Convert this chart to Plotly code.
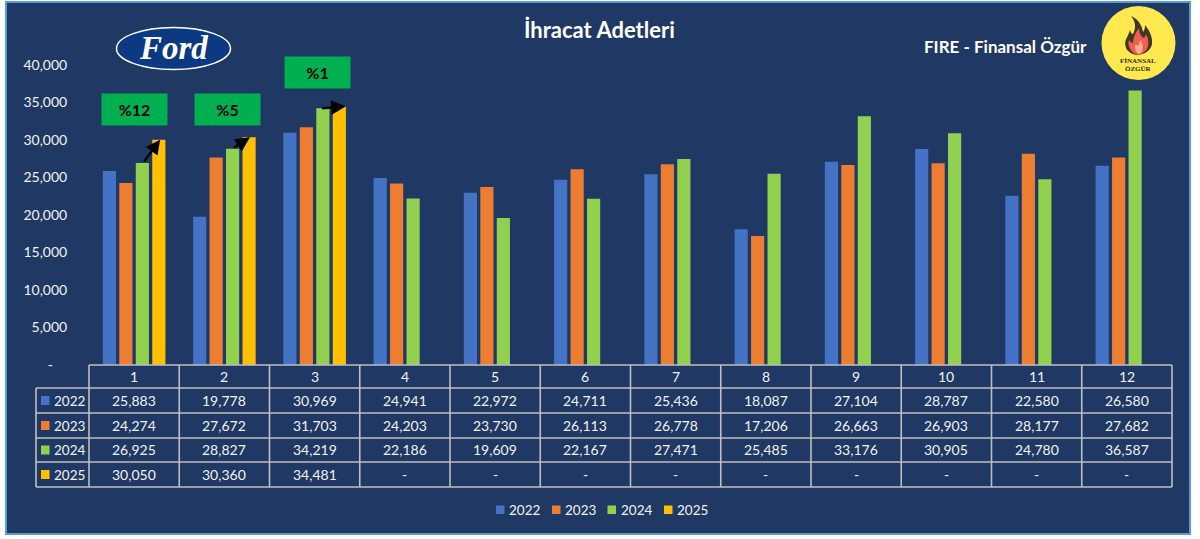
import plotly.graph_objects as go

months = [1, 2, 3, 4, 5, 6, 7, 8, 9, 10, 11, 12]
years = ["2022", "2023", "2024", "2025"]
v2022 = [25883, 19778, 30969, 24941, 22972, 24711, 25436, 18087, 27104, 28787, 22580, 26580]
v2023 = [24274, 27672, 31703, 24203, 23730, 26113, 26778, 17206, 26663, 26903, 28177, 27682]
v2024 = [26925, 28827, 34219, 22186, 19609, 22167, 27471, 25485, 33176, 30905, 24780, 36587]
v2025 = [30050, 30360, 34481, None, None, None, None, None, None, None, None, None]
series = [v2022, v2023, v2024, v2025]
colors = ["#4472C4", "#ED7D31", "#92D050", "#FFC000"]
y_ticks = [0, 5000, 10000, 15000, 20000, 25000, 30000, 35000, 40000]
change_labels = ["%12", "%5", "%1"]

W, H = 1200, 539
L, R, T, B = 89, 1172, 65, 365
BG = "#1F3864"
TXT = "#F2F2F2"
GRID = "#BFBFBF"
FONT = "Lato"


def px(x):
    return (x - L) / (R - L)


def py(y):
    return (B - y) / (B - T)


def rect(x0, y0, x1, y1, **kw):
    return dict(type="rect", xref="paper", yref="paper", x0=px(x0), x1=px(x1), y0=py(y0), y1=py(y1), **kw)


def line(x0, y0, x1, y1, color=GRID, width=1.6):
    return dict(type="line", xref="paper", yref="paper", x0=px(x0), x1=px(x1), y0=py(y0), y1=py(y1),
                line=dict(color=color, width=width), layer="above")


def path(cmds, fill):
    out = []
    for c in cmds:
        if isinstance(c, str):
            out.append(c)
        else:
            out.append(f"{px(c[0]):.5f},{py(c[1]):.5f}")
    return dict(type="path", xref="paper", yref="paper", path=" ".join(out),
                fillcolor=fill, line=dict(width=0), layer="above")


def text(x, y, s, size=14, color=TXT, bold=False, family=FONT, **kw):
    if bold:
        s = f"<b>{s}</b>"
    return dict(x=px(x), y=py(y), xref="paper", yref="paper", text=s, showarrow=False,
                font=dict(size=size, color=color, family=family), xanchor=kw.pop("xanchor", "center"),
                yanchor="middle", **kw)


fig = go.Figure()
for name, vals, col in zip(years, series, colors):
    fig.add_bar(x=months, y=vals, name=name, marker=dict(color=col, line=dict(width=0)), showlegend=False)

shapes = [rect(6, 2, 1190, 534, fillcolor=BG, line=dict(color="#5B9BD5", width=2), layer="below")]
annotations = []

# data table
col_w = (R - L) / 12
row_y = [365, 388, 413, 438, 462, 487]
for i in range(13):
    shapes.append(line(L + i * col_w, 365, L + i * col_w, 487))
shapes.append(line(36, 388, 36, 487))
shapes.append(line(L, 365, R, 365))
for y in row_y[1:]:
    shapes.append(line(36, y, R, y))
for i, m in enumerate(months):
    annotations.append(text(L + (i + .5) * col_w, 376, str(m)))
for r, (name, vals, col) in enumerate(zip(years, series, colors)):
    yc = (row_y[r + 1] + row_y[r + 2]) / 2
    shapes.append(rect(41, yc - 4.5, 49.5, yc + 4.5, fillcolor=col, line=dict(width=0), layer="above"))
    annotations.append(text(51.5, yc, name, size=13.5, xanchor="left"))
    for i, v in enumerate(vals):
        annotations.append(text(L + (i + .5) * col_w, yc, "-" if v is None else f"{v:,}"))

# legend
leg_sq = [496, 552, 607.5, 664]
leg_tx = [507, 563, 619, 675]
for x, tx, name, col in zip(leg_sq, leg_tx, years, colors):
    shapes.append(rect(x, 505.5, x + 8.5, 514, fillcolor=col, line=dict(width=0), layer="above"))
    annotations.append(text(tx, 509.5, name, size=13.5, xanchor="left", color="#F2F2F2"))

# green change boxes and arrows
box_pos = [(134.5, 109.5), (227, 109.5), (317, 72.5)]
for lab, (x, y) in zip(change_labels, box_pos):
    annotations.append(dict(x=px(x), y=py(y), xref="paper", yref="paper", text=f"<b>{lab}</b>", showarrow=False,
                            bgcolor="#00B050", width=65, height=31, borderpad=0, xanchor="center", yanchor="middle",
                            font=dict(size=16, color="#000000", family=FONT)))
arrow_off = [(9, 26), (8, 25.6), (6, 31)]
for i, (a, b) in enumerate(arrow_off):
    annotations.append(dict(x=months[i] + b / col_w, y=v2025[i], ax=months[i] + a / col_w, ay=v2024[i],
                            xref="x", yref="y", axref="x", ayref="y", text="", showarrow=True,
                            arrowhead=2, arrowsize=1.2, arrowwidth=2.4, arrowcolor="#000000"))

# titles
annotations.append(text(599, 30, "İhracat Adetleri", size=22, color="#FFFFFF", bold=True))
annotations.append(text(1005, 47, "FIRE - Finansal Özgür", size=17, color="#FFFFFF", bold=True))

# Ford logo
shapes.append(dict(type="circle", xref="paper", yref="paper", x0=px(116.5), x1=px(230.5), y0=py(27.5), y1=py(69.5),
                   fillcolor="#0B3A82", line=dict(color="#FFFFFF", width=1.5), layer="above"))
annotations.append(text(173, 48, "<i>Ford</i>", size=33, color="#FFFFFF", bold=True, family="Liberation Serif"))

# FIRE logo
shapes.append(dict(type="circle", xref="paper", yref="paper", x0=px(1101.5), x1=px(1175.5), y0=py(6), y1=py(80),
                   fillcolor="#FFE94F", line=dict(width=0), layer="above"))
shapes.append(path(["M", (1137, 55), "C", (1128, 54), (1123, 47), (1126, 39), "C", (1128, 36), (1129, 33), (1130, 30),
                    "C", (1131, 33), (1132, 34), (1133, 34), "C", (1136, 28), (1136, 22), (1131, 16),
                    "C", (1138, 19), (1142, 25), (1143, 32), "C", (1145, 30), (1145, 27), (1145, 25),
                    "C", (1149, 30), (1153, 37), (1152, 44), "C", (1151, 50), (1146, 54), (1137, 55), "Z"], "#3D3A1E"))
shapes.append(path(["M", (1138, 55), "C", (1131, 53), (1127, 46), (1129, 40), "C", (1130, 42), (1132, 43), (1133, 43),
                    "C", (1133, 38), (1135, 33), (1139, 28), "C", (1139, 33), (1141, 36), (1143, 38),
                    "C", (1145, 37), (1146, 36), (1146, 34), "C", (1149, 39), (1149, 45), (1147, 49),
                    "C", (1145, 52), (1142, 54), (1138, 55), "Z"], "#F25C54"))
shapes.append(path(["M", (1138, 54), "C", (1135, 51), (1134, 47), (1136, 44), "C", (1137, 46), (1138, 46), (1139, 45),
                    "C", (1139, 42), (1140, 41), (1141, 40), "C", (1142, 44), (1144, 47), (1142, 51),
                    "C", (1141, 53), (1140, 54), (1138, 54), "Z"], "#FFB08A"))
annotations.append(text(1138, 60.5, "FİNANSAL", size=7, color="#2B2B14", bold=True, family="Liberation Serif"))
annotations.append(text(1138, 68.5, "ÖZGÜR", size=7, color="#2B2B14", bold=True, family="Liberation Serif"))

fig.update_layout(
    width=W, height=H, autosize=False,
    margin=dict(l=L, r=W - R, t=T, b=H - B, pad=0),
    paper_bgcolor="#FFFFFF", plot_bgcolor="rgba(0,0,0,0)",
    barmode="group", bargap=0.27, bargroupgap=0.2,
    shapes=shapes, annotations=annotations,
    font=dict(family=FONT, color=TXT, size=14),
    xaxis=dict(range=[0.5, 12.5], tickvals=months, showticklabels=False, ticks="", showgrid=False, zeroline=False),
    yaxis=dict(range=[0, 40000], tickvals=y_ticks,
               ticktext=["-\u00a0\u00a0\u00a0\u00a0"] + [f"{v:,}" for v in y_ticks[1:]],
               ticks="outside", ticklen=18, tickcolor="rgba(0,0,0,0)", showgrid=False, zeroline=False,
               showline=False, tickfont=dict(size=14, color=TXT, family=FONT)),
)

fig.write_html("out.html", config={"displayModeBar": False},
               post_script="document.body.style.margin='0';document.body.style.overflow='hidden';")
